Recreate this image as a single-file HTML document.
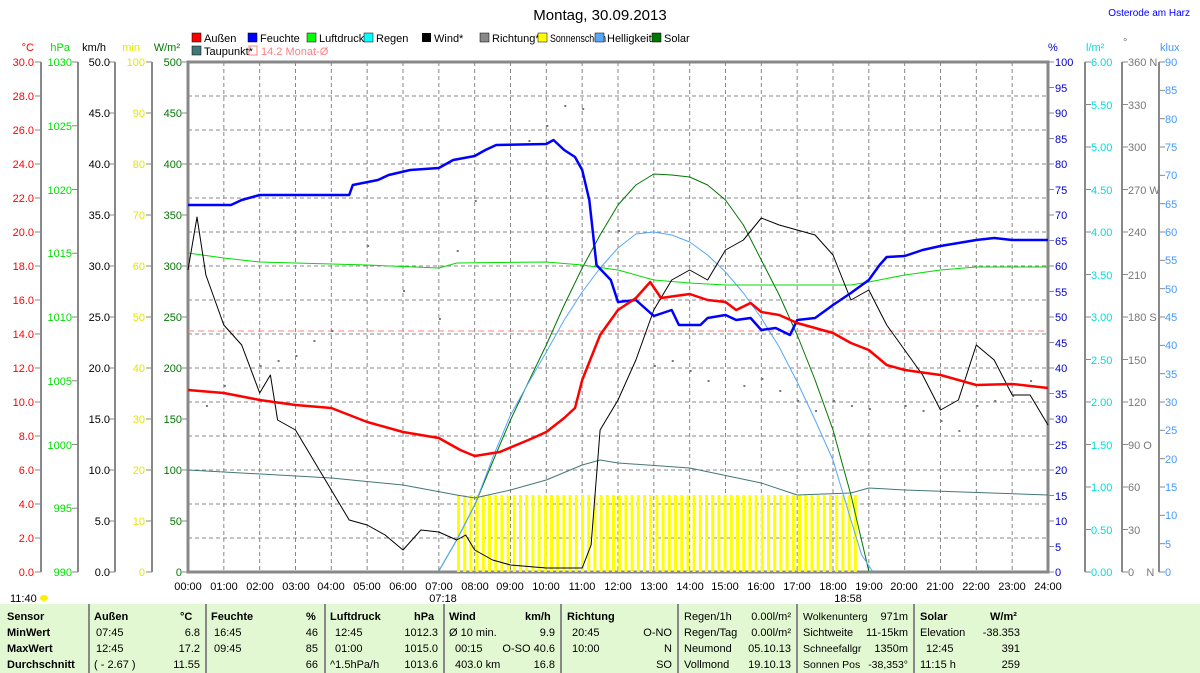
<!DOCTYPE html>
<html><head><meta charset="utf-8">
<style>
body{margin:0;width:1200px;height:673px;background:#fff;overflow:hidden;font-family:"Liberation Sans",sans-serif;position:relative}
svg{position:absolute;left:0;top:0}
.tb{position:absolute;left:0;top:604px;width:1200px;height:69px;background:#e2f8d2}
.c{position:absolute;font-size:11px;white-space:nowrap;color:#000}
.b{font-weight:bold}
.r{text-align:right}
.sep{position:absolute;top:604px;width:2px;height:69px;background:#888}
</style></head><body>
<div class="tb"></div>
<svg width="1200" height="673" id="s" font-family="Liberation Sans, sans-serif" font-size="11">
<text x="600" y="20" text-anchor="middle" font-size="15">Montag, 30.09.2013</text>
<text x="1190" y="16" text-anchor="end" font-size="10" fill="#0000ff">Osterode am Harz</text>
<g font-size="11">
<text x="34" y="51" text-anchor="end" fill="#ff0000">°C</text>
<text x="70" y="51" text-anchor="end" fill="#00dd00">hPa</text>
<text x="106" y="51" text-anchor="end">km/h</text>
<text x="140" y="51" text-anchor="end" fill="#e6e600">min</text>
<text x="180" y="51" text-anchor="end" fill="#007700">W/m²</text>
<text x="1048" y="51" fill="#0000cc">%</text>
<text x="1086" y="51" fill="#00dddd">l/m²</text>
<text x="1123" y="46" fill="#777">°</text>
<text x="1160" y="51" fill="#4499ff">klux</text>
</g>
<g id="grid"></g>
<g id="ser"></g>
<g text-anchor="end" fill="#ff0000">
<text x="34" y="66">30.0</text><text x="34" y="100">28.0</text><text x="34" y="134">26.0</text><text x="34" y="168">24.0</text><text x="34" y="202">22.0</text><text x="34" y="236">20.0</text><text x="34" y="270">18.0</text><text x="34" y="304">16.0</text><text x="34" y="338">14.0</text><text x="34" y="372">12.0</text><text x="34" y="406">10.0</text><text x="34" y="440">8.0</text><text x="34" y="474">6.0</text><text x="34" y="508">4.0</text><text x="34" y="542">2.0</text><text x="34" y="576">0.0</text>
</g>
<g text-anchor="end" fill="#00dd00">
<text x="72" y="66">1030</text><text x="72" y="130">1025</text><text x="72" y="194">1020</text><text x="72" y="257">1015</text><text x="72" y="321">1010</text><text x="72" y="385">1005</text><text x="72" y="449">1000</text><text x="72" y="512">995</text><text x="72" y="576">990</text>
</g>
<g text-anchor="end">
<text x="110" y="66">50.0</text><text x="110" y="117">45.0</text><text x="110" y="168">40.0</text><text x="110" y="219">35.0</text><text x="110" y="270">30.0</text><text x="110" y="321">25.0</text><text x="110" y="372">20.0</text><text x="110" y="423">15.0</text><text x="110" y="474">10.0</text><text x="110" y="525">5.0</text><text x="110" y="576">0.0</text>
</g>
<g text-anchor="end" fill="#e6e600">
<text x="145" y="66">100</text><text x="145" y="117">90</text><text x="145" y="168">80</text><text x="145" y="219">70</text><text x="145" y="270">60</text><text x="145" y="321">50</text><text x="145" y="372">40</text><text x="145" y="423">30</text><text x="145" y="474">20</text><text x="145" y="525">10</text><text x="145" y="576">0</text>
</g>
<g text-anchor="end" fill="#007700">
<text x="182" y="66">500</text><text x="182" y="117">450</text><text x="182" y="168">400</text><text x="182" y="219">350</text><text x="182" y="270">300</text><text x="182" y="321">250</text><text x="182" y="372">200</text><text x="182" y="423">150</text><text x="182" y="474">100</text><text x="182" y="525">50</text><text x="182" y="576">0</text>
</g>
<g fill="#0000cc">
<text x="1055" y="66">100</text><text x="1055" y="92">95</text><text x="1055" y="117">90</text><text x="1055" y="143">85</text><text x="1055" y="168">80</text><text x="1055" y="194">75</text><text x="1055" y="219">70</text><text x="1055" y="245">65</text><text x="1055" y="270">60</text><text x="1055" y="296">55</text><text x="1055" y="321">50</text><text x="1055" y="347">45</text><text x="1055" y="372">40</text><text x="1055" y="398">35</text><text x="1055" y="423">30</text><text x="1055" y="449">25</text><text x="1055" y="474">20</text><text x="1055" y="500">15</text><text x="1055" y="525">10</text><text x="1055" y="551">5</text><text x="1055" y="576">0</text>
</g>
<g fill="#00dddd">
<text x="1091" y="66">6.00</text><text x="1091" y="109">5.50</text><text x="1091" y="151">5.00</text><text x="1091" y="194">4.50</text><text x="1091" y="236">4.00</text><text x="1091" y="279">3.50</text><text x="1091" y="321">3.00</text><text x="1091" y="364">2.50</text><text x="1091" y="406">2.00</text><text x="1091" y="449">1.50</text><text x="1091" y="491">1.00</text><text x="1091" y="534">0.50</text><text x="1091" y="576">0.00</text>
</g>
<g fill="#777">
<text x="1128" y="66">360 N</text><text x="1128" y="109">330</text><text x="1128" y="151">300</text><text x="1128" y="194">270 W</text><text x="1128" y="236">240</text><text x="1128" y="279">210</text><text x="1128" y="321">180 S</text><text x="1128" y="364">150</text><text x="1128" y="406">120</text><text x="1128" y="449">90 O</text><text x="1128" y="491">60</text><text x="1128" y="534">30</text><text x="1128" y="576">0&#160;&#160;&#160;&#160;N</text>
</g>
<g fill="#4499ff">
<text x="1165" y="66">90</text><text x="1165" y="94">85</text><text x="1165" y="123">80</text><text x="1165" y="151">75</text><text x="1165" y="179">70</text><text x="1165" y="208">65</text><text x="1165" y="236">60</text><text x="1165" y="264">55</text><text x="1165" y="293">50</text><text x="1165" y="321">45</text><text x="1165" y="349">40</text><text x="1165" y="378">35</text><text x="1165" y="406">30</text><text x="1165" y="434">25</text><text x="1165" y="463">20</text><text x="1165" y="491">15</text><text x="1165" y="519">10</text><text x="1165" y="548">5</text><text x="1165" y="576">0</text>
</g>
<g text-anchor="middle">
<text x="188" y="590">00:00</text><text x="224" y="590">01:00</text><text x="260" y="590">02:00</text><text x="296" y="590">03:00</text><text x="331" y="590">04:00</text><text x="367" y="590">05:00</text><text x="403" y="590">06:00</text><text x="439" y="590">07:00</text><text x="475" y="590">08:00</text><text x="510" y="590">09:00</text><text x="546" y="590">10:00</text><text x="582" y="590">11:00</text><text x="618" y="590">12:00</text><text x="654" y="590">13:00</text><text x="690" y="590">14:00</text><text x="725" y="590">15:00</text><text x="761" y="590">16:00</text><text x="797" y="590">17:00</text><text x="833" y="590">18:00</text><text x="869" y="590">19:00</text><text x="904" y="590">20:00</text><text x="940" y="590">21:00</text><text x="976" y="590">22:00</text><text x="1012" y="590">23:00</text><text x="1048" y="590">24:00</text>
<text x="443" y="602">07:18</text><text x="848" y="602">18:58</text>
</g>
<text x="10" y="602">11:40</text>
<ellipse cx="44" cy="598" rx="4" ry="3" fill="#ffee00"/>
<g font-size="11">
<rect x="192" y="33" width="9" height="9" fill="#ff0000" stroke="#000" stroke-width=".5"/><text x="204" y="42">Außen</text>
<rect x="248" y="33" width="9" height="9" fill="#0000ff" stroke="#000" stroke-width=".5"/><text x="260" y="42">Feuchte</text>
<rect x="307" y="33" width="9" height="9" fill="#00ff00" stroke="#000" stroke-width=".5"/><text x="319" y="42">Luftdruck*</text>
<rect x="364" y="33" width="9" height="9" fill="#00ffff" stroke="#000" stroke-width=".5"/><text x="376" y="42">Regen</text>
<rect x="422" y="33" width="9" height="9" fill="#000"/><text x="434" y="42">Wind*</text>
<rect x="480" y="33" width="9" height="9" fill="#888" stroke="#000" stroke-width=".5"/><text x="492" y="42">Richtung*</text>
<rect x="538" y="33" width="9" height="9" fill="#ffff00" stroke="#000" stroke-width=".5"/><text x="550" y="42" textLength="56" lengthAdjust="spacingAndGlyphs">Sonnenschein</text>
<rect x="595" y="33" width="9" height="9" fill="#55a8ff" stroke="#000" stroke-width=".5"/><text x="607" y="42">Helligkeit</text>
<rect x="652" y="33" width="9" height="9" fill="#007700" stroke="#000" stroke-width=".5"/><text x="664" y="42">Solar</text>
<rect x="192" y="46" width="9" height="9" fill="#447777" stroke="#000" stroke-width=".5"/><text x="204" y="55">Taupunkt*</text>
<rect x="249" y="46" width="8" height="9" fill="none" stroke="#ff8080"/><text x="261" y="55" fill="#ff8080">14.2 Monat-Ø</text>
</g>
</svg>
<div class="sep" style="left:88px"></div><div class="sep" style="left:205px"></div><div class="sep" style="left:324px"></div><div class="sep" style="left:443px"></div><div class="sep" style="left:560px"></div><div class="sep" style="left:677px"></div><div class="sep" style="left:796px"></div><div class="sep" style="left:913px"></div>
<div class="c b" style="left:7px;top:611px">Sensor</div>
<div class="c b" style="left:7px;top:627px">MinWert</div>
<div class="c b" style="left:7px;top:643px">MaxWert</div>
<div class="c b" style="left:7px;top:659px">Durchschnitt</div>
<div class="c b" style="left:94px;top:611px">Außen</div><div class="c b" style="left:180px;top:611px">°C</div>
<div class="c" style="left:96px;top:627px">07:45</div><div class="c r" style="left:150px;width:50px;top:627px">6.8</div>
<div class="c" style="left:96px;top:643px">12:45</div><div class="c r" style="left:150px;width:50px;top:643px">17.2</div>
<div class="c" style="left:94px;top:659px">( - 2.67 )</div><div class="c r" style="left:150px;width:50px;top:659px">11.55</div>
<div class="c b" style="left:211px;top:611px">Feuchte</div><div class="c b" style="left:306px;top:611px">%</div>
<div class="c" style="left:214px;top:627px">16:45</div><div class="c r" style="left:270px;width:48px;top:627px">46</div>
<div class="c" style="left:214px;top:643px">09:45</div><div class="c r" style="left:270px;width:48px;top:643px">85</div>
<div class="c r" style="left:270px;width:48px;top:659px">66</div>
<div class="c b" style="left:330px;top:611px">Luftdruck</div><div class="c b" style="left:414px;top:611px">hPa</div>
<div class="c" style="left:335px;top:627px">12:45</div><div class="c r" style="left:380px;width:58px;top:627px">1012.3</div>
<div class="c" style="left:335px;top:643px">01:00</div><div class="c r" style="left:380px;width:58px;top:643px">1015.0</div>
<div class="c" style="left:330px;top:659px">^1.5hPa/h</div><div class="c r" style="left:380px;width:58px;top:659px">1013.6</div>
<div class="c b" style="left:449px;top:611px">Wind</div><div class="c b" style="left:525px;top:611px">km/h</div>
<div class="c" style="left:449px;top:627px">Ø 10 min.</div><div class="c r" style="left:500px;width:55px;top:627px">9.9</div>
<div class="c" style="left:455px;top:643px">00:15</div><div class="c r" style="left:490px;width:65px;top:643px">O-SO 40.6</div>
<div class="c" style="left:455px;top:659px">403.0 km</div><div class="c r" style="left:500px;width:55px;top:659px">16.8</div>
<div class="c b" style="left:567px;top:611px">Richtung</div>
<div class="c" style="left:572px;top:627px">20:45</div><div class="c r" style="left:620px;width:52px;top:627px">O-NO</div>
<div class="c" style="left:572px;top:643px">10:00</div><div class="c r" style="left:620px;width:52px;top:643px">N</div>
<div class="c r" style="left:620px;width:52px;top:659px">SO</div>
<div class="c" style="left:684px;top:611px">Regen/1h</div><div class="c r" style="left:740px;width:51px;top:611px">0.00l/m²</div>
<div class="c" style="left:684px;top:627px">Regen/Tag</div><div class="c r" style="left:740px;width:51px;top:627px">0.00l/m²</div>
<div class="c" style="left:684px;top:643px">Neumond</div><div class="c r" style="left:740px;width:51px;top:643px">05.10.13</div>
<div class="c" style="left:684px;top:659px">Vollmond</div><div class="c r" style="left:740px;width:51px;top:659px">19.10.13</div>
<div class="c" style="left:803px;top:611px;font-size:10.5px">Wolkenunterg</div><div class="c r" style="left:860px;width:48px;top:611px">971m</div>
<div class="c" style="left:803px;top:627px">Sichtweite</div><div class="c r" style="left:860px;width:48px;top:627px">11-15km</div>
<div class="c" style="left:803px;top:643px;font-size:10.5px">Schneefallgr</div><div class="c r" style="left:860px;width:48px;top:643px">1350m</div>
<div class="c" style="left:803px;top:659px;font-size:10.5px">Sonnen Pos</div><div class="c r" style="left:850px;width:58px;top:659px;font-size:10.5px">-38,353°</div>
<div class="c b" style="left:920px;top:611px">Solar</div><div class="c b" style="left:990px;top:611px">W/m²</div>
<div class="c" style="left:920px;top:627px">Elevation</div><div class="c r" style="left:960px;width:60px;top:627px">-38.353</div>
<div class="c" style="left:926px;top:643px">12:45</div><div class="c r" style="left:960px;width:60px;top:643px">391</div>
<div class="c" style="left:920px;top:659px">11:15 h</div><div class="c r" style="left:960px;width:60px;top:659px">259</div>
<script>
const NS="http://www.w3.org/2000/svg";
function el(p,t,a){const e=document.createElementNS(NS,t);for(const k in a)e.setAttribute(k,a[k]);p.appendChild(e);return e;}
const g=document.getElementById('grid'),s=document.getElementById('ser');
const X=h=>188+h*35.833;
for(let h=1;h<24;h++)el(g,'line',{x1:X(h),y1:62,x2:X(h),y2:572,stroke:'#888','stroke-dasharray':'4,3'});
for(let k=1;k<15;k++)el(g,'line',{x1:188,y1:62+34*k,x2:1048,y2:62+34*k,stroke:'#888','stroke-dasharray':'4,3'});
[41,78,115,152,1085,1122,1159].forEach(x=>el(g,'line',{x1:x,y1:62,x2:x,y2:572,stroke:'#888','stroke-width':2}));
el(g,'rect',{x:188,y:62,width:860,height:510,fill:'none',stroke:'#888','stroke-width':3});
function ticks(x,dir,n){for(let k=0;k<=n;k++){const y=62+510*k/n;el(g,'line',{x1:x,y1:y,x2:x+dir*6,y2:y,stroke:'#888'});}}
ticks(41,-1,15);ticks(78,-1,8);ticks(115,-1,10);ticks(152,-1,10);ticks(188,-1,10);
ticks(1048,1,20);ticks(1085,1,12);ticks(1122,1,12);ticks(1159,1,18);
for(let x=457;x<=860;x+=6.2)el(s,'rect',{x:x,y:495,width:3,height:77,fill:'#ffff00'});
el(s,'line',{x1:188,y1:331,x2:1048,y2:331,stroke:'#ff8080','stroke-dasharray':'6,4'});
function line(pts,col,w){let d='';pts.forEach((p,i)=>{d+=(i?'L':'M')+X(p[0]).toFixed(1)+' '+p[1];});el(s,'path',{d:d,fill:'none',stroke:col,'stroke-width':w,'stroke-linejoin':'round'});}
[[0.5,405],[1,385],[2,365],[2.5,360],[3,355],[3.5,340],[4,330],[5,245],[6,290],[7,318],[7.5,250],[8,200],[9.5,140],[10,125],[10.5,105],[11,108],[12,230],[13,365],[13.5,360],[14,370],[14.5,380],[15.5,385],[16,378],[16.5,390],[17,400],[17.5,410],[18,400],[18.5,405],[19,408],[20,405],[20.5,410],[21,420],[21.5,430],[22,405],[22.5,400],[23,395],[23.5,380]].forEach(p=>el(s,'rect',{x:X(p[0]),y:p[1],width:2,height:2,fill:'#777'}));
line([[0,470],[4,478],[6,485],[7.5,495],[8,498],[9,490],[10,480],[11,465],[11.5,460],[12,463],[14,468],[16,483],[17,495],[18.5,493],[19,488],[20,490],[24,495]],'#447777',1);
line([[7,571],[7.5,540],[8,505],[8.5,462],[9,420],[9.5,382],[10,345],[10.5,305],[11,268],[11.5,235],[12,205],[12.5,185],[13,174],[13.5,175],[14,177],[14.5,185],[15,200],[15.5,225],[16,260],[16.5,295],[17,335],[17.5,380],[18,430],[18.5,495],[19,571]],'#007700',1);
line([[7,571],[7.5,540],[8,505],[8.5,458],[9,415],[9.5,383],[10,352],[10.5,320],[11,292],[11.5,268],[12,248],[12.5,234],[13,232],[13.5,235],[14,242],[14.5,255],[15,272],[15.5,293],[16,318],[16.5,347],[17,382],[17.5,420],[18,460],[18.5,520],[18.8,555],[19.1,571]],'#55a8ff',1);
line([[0,253],[1,258],[2,262],[5,265],[7,268],[7.5,263],[10,262],[11,265],[12,270],[13,280],[14,283],[15,285],[18.5,285],[19,282],[20,275],[21,270],[22,267],[24,267]],'#00dd00',1);
line([[0,270],[0.25,217],[0.5,275],[1,325],[1.5,345],[2,393],[2.3,375],[2.5,420],[3,430],[3.5,460],[4,490],[4.5,520],[5,525],[5.5,535],[6,550],[6.5,530],[7,532],[7.5,540],[7.75,535],[8,550],[8.5,560],[9,565],[10,568],[11,568],[11.25,545],[11.5,430],[12,400],[12.5,360],[13,310],[13.5,280],[14,270],[14.5,280],[15,250],[15.5,240],[16,218],[16.5,225],[17,230],[17.5,235],[18,255],[18.5,300],[19,290],[19.5,325],[20,350],[20.5,375],[21,410],[21.5,400],[22,345],[22.5,360],[23,395],[23.5,395],[24,425]],'#000',1);
line([[0,205],[1.2,205],[1.5,200],[2,195],[4.5,195],[4.6,185],[5.3,180],[5.6,175],[6.2,170],[7,168],[7.4,160],[8,156],[8.3,150],[8.6,145],[10,144],[10.2,140],[10.5,150],[10.8,157],[11,170],[11.2,200],[11.4,265],[11.8,280],[12,302],[12.5,300],[13,316],[13.5,310],[13.7,325],[14.3,325],[14.5,318],[15,315],[15.3,320],[15.7,318],[16,330],[16.4,328],[16.8,335],[17,320],[17.5,318],[18,305],[18.5,293],[19,280],[19.3,265],[19.5,257],[20,256],[20.5,250],[21,246],[22,240],[22.5,238],[23,240],[24,240]],'#0000ff',2.5);
line([[0,390],[1,393],[2,400],[3,405],[4,408],[5,422],[6,432],[7,438],[7.6,450],[8,456],[8.7,452],[9.5,440],[10,432],[10.5,418],[10.8,408],[11,380],[11.5,335],[12,310],[12.5,298],[12.9,282],[13.2,298],[14,294],[14.5,300],[15,302],[15.3,310],[15.7,303],[16,312],[16.5,315],[17,323],[18,333],[18.5,343],[19,350],[19.5,365],[20,370],[21,375],[22,385],[23,384],[24,388]],'#ff0000',2.5);
</script>
</body></html>
